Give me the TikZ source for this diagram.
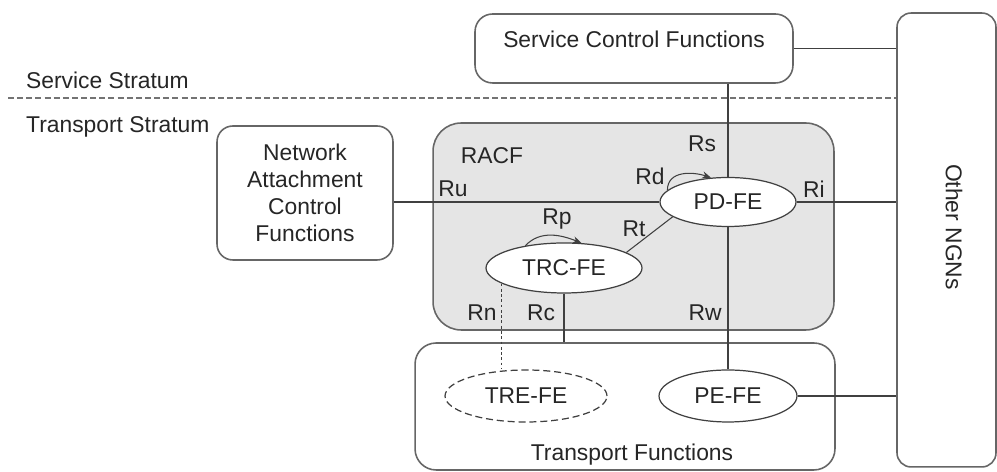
\documentclass[tikz,border=0pt]{standalone}
\usepackage{fontspec}
\setmainfont{Liberation Sans}
\usetikzlibrary{arrows.meta,shapes,calc,positioning}
\begin{document}
\begin{tikzpicture}[x=0.02cm,y=0.02cm]
	\tikzstyle{every node}=[font=\fontsize{13}{15.4}\selectfont, text=black!85]
	\tikzstyle{fbox}=[draw=black!60, line width=0.9pt, rounded corners=10pt, inner sep=0pt]
	\tikzstyle{fe}=[draw=black!75, line width=0.7pt, ellipse, fill=white, inner sep=0pt]
	\tikzstyle{link}=[draw=black!75, line width=0.6pt]
	\tikzstyle{selfref}=[link, -{Stealth[length=5pt,width=4pt]}]
	\useasboundingbox (0,0) rectangle (997,472);
	% strata
	\draw [line width=1pt, black!55, dash pattern=on 3.4pt off 1.8pt] (8,374) -- (897,374);
	\node [anchor=west] (service) at (20,392) {Service Stratum};
	\node [anchor=west] (transport) at (20,345) {Transport Stratum};
	% boxes
	\node [fbox, minimum width=6.36cm, minimum height=1.38cm] (scf) at (634,423.5) {};
	\node (scftxt) at (634,433) {Service Control Functions};
	\node [fbox, rounded corners=8pt, minimum width=1.98cm, minimum height=9.08cm] (ngn) at (946.5,232) {};
	\node [rotate=-90] (ngntxt) at (954,245) {Other NGNs};
	\node [fbox, rounded corners=9pt, align=center, minimum width=3.52cm, minimum height=2.68cm] (nacf) at (305,279) {Network\\Attachment\\Control\\Functions};
	\node [fbox, fill=black!10, rounded corners=16pt, minimum width=8.02cm, minimum height=4.14cm] (racf) at (633.5,245.5) {};
	\node (racftxt) at (492,316) {RACF};
	\node [fbox, rounded corners=12pt, minimum width=8.4cm, minimum height=2.54cm] (tf) at (625,65.5) {};
	\node (tftxt) at (632,17) {Transport Functions};
	% functional entities
	\node [fe, minimum width=2.72cm, minimum height=0.98cm] (pd) at (728,270) {PD-FE};
	\node [fe, minimum width=3.12cm, minimum height=1cm] (trc) at (564,204) {TRC-FE};
	\node [fe, dash pattern=on 4pt off 2.2pt, minimum width=3.24cm, minimum height=1.04cm] (tre) at (526,76) {TRE-FE};
	\node [fe, minimum width=2.76cm, minimum height=1.04cm] (pe) at (728,76) {PE-FE};
	% reference points
	\draw [link] (scf.east) -- (scf.east -| ngn.west);
	\draw [link] (scf.south -| pd.north) -- (pd.north);
	\draw [link] (pd.west -| nacf.east) -- (pd.west);
	\draw [link] (pd.east) -- (pd.east -| ngn.west);
	\draw [link] (trc.14) -- (pd.195);
	\draw [link, dash pattern=on 1.6pt off 1.4pt] (trc.194) -- (trc.194 |- tre.north);
	\draw [link] (trc.south) -- (trc.south |- tf.north);
	\draw [link] (pd.south) -- (pe.north);
	\draw [link] (pe.east) -- (pe.east -| ngn.west);
	\draw [selfref] (pd.169) .. controls +(0,20) and +(-18,6) .. (pd.125);
	\draw [selfref] (trc.150) .. controls +(15,16) and +(-20,8) .. (trc.55);
	\node (rs) at (702,328) {Rs};
	\node (rd) at (650,296) {Rd};
	\node (ri) at (814,283) {Ri};
	\node (ru) at (453,283) {Ru};
	\node (rp) at (557,253) {Rp};
	\node (rt) at (634,243) {Rt};
	\node (rn) at (482,159) {Rn};
	\node (rc) at (541,159) {Rc};
	\node (rw) at (705,159) {Rw};
\end{tikzpicture}
\end{document}
